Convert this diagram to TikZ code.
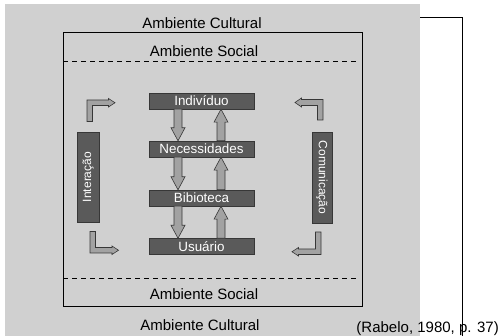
\documentclass[tikz,border=0pt]{standalone}
\usepackage{fontspec}
\setmainfont{Liberation Sans}
\usetikzlibrary{calc}

\definecolor{bggray}{RGB}{208,208,208}
\definecolor{boxgray}{RGB}{90,90,90}
\definecolor{arrgray}{RGB}{162,162,162}
\definecolor{edgegray}{RGB}{55,55,55}

\tikzset{
  envlabel/.style={font=\fontsize{15}{17}\selectfont, inner sep=0pt},
  stagebox/.style={draw=edgegray, fill=boxgray, text=white, minimum width=105pt,
    minimum height=16pt, inner sep=0pt, font=\fontsize{13.4}{15}\selectfont},
  sidebox/.style={draw=edgegray, fill=boxgray, text=white, inner sep=0pt,
    font=\fontsize{12}{14}\selectfont},
  blockarr/.style={draw=edgegray, fill=arrgray, line width=0.6pt, line join=miter}
}

% base, tip, head offset (negative: head points down)
\newcommand{\fatarrow}[3]{%
  \filldraw[blockarr] ($#1+(-4,0)$) -- ($#1+(4,0)$) -- ($#2+(4,#3)$) -- ($#2+(7,#3)$)
    -- #2 -- ($#2+(-7,#3)$) -- ($#2+(-4,#3)$) -- cycle;}

\begin{document}
\begin{tikzpicture}[x=1pt, y=-1pt]
  \useasboundingbox (0,0) rectangle (498,336);
  % ambiente cultural
  \fill[bggray] (5,4) rectangle (420,336);
  \draw[line width=0.8pt] (420,17) -- (462,17) -- (462,336);
  \node[envlabel] (cultop) at (202,23) {Ambiente Cultural};
  \node[envlabel] (cultbot) at (200,325) {Ambiente Cultural};
  \node[envlabel, anchor=east] (ref) at (499,329) {(Rabelo, 1980, p. 37)};
  % ambiente social
  \draw[line width=0.8pt] (63,32) rectangle (362,306);
  \draw[dashed, dash pattern=on 5pt off 4pt, line width=0.8pt] (63,61) -- (356,61);
  \draw[dashed, dash pattern=on 5pt off 4pt, line width=0.8pt] (63,278) -- (358,278);
  \node[envlabel] (soctop) at (204,51) {Ambiente Social};
  \node[envlabel] (socbot) at (204,294) {Ambiente Social};

  % cadeia central
  \node[stagebox] (ind) at (201.5,101) {Indivíduo};
  \node[stagebox] (nec) at (201.5,149) {Necessidades};
  \node[stagebox] (bib) at (201.5,198) {Bibioteca};
  \node[stagebox] (usu) at (201.5,246.5) {Usuário};
  \coordinate (dn) at (178,0);
  \coordinate (up) at (221,0);
  \fatarrow{(ind.south -| dn)}{(nec.north -| dn)}{-13}
  \fatarrow{(nec.north -| up)}{(ind.south -| up)}{13}
  \fatarrow{(nec.south -| dn)}{(bib.north -| dn)}{-13}
  \fatarrow{(bib.north -| up)}{(nec.south -| up)}{13}
  \fatarrow{(bib.south -| dn)}{(usu.north -| dn)}{-13}
  \fatarrow{(usu.north -| up)}{(bib.south -| up)}{13}

  % laterais
  \node[sidebox, minimum width=90pt, minimum height=22pt, rotate=90] (int) at (88,177) {Interação};
  \node[sidebox, minimum width=91pt, minimum height=20pt, rotate=-90] (com) at (322,177.5) {Comunicação};
  \filldraw[blockarr] (87,121.5) -- (87,100) -- (108.5,100) -- (108.5,98.5) -- (115,102.75)
    -- (108.5,107) -- (108.5,105.5) -- (92.5,105.5) -- (92.5,121.5) -- cycle;
  \filldraw[blockarr] (90,231.5) -- (95.5,231.5) -- (95.5,247.5) -- (112,247.5) -- (112,246)
    -- (118.5,250.25) -- (112,254.5) -- (112,253) -- (90,253) -- cycle;
  \filldraw[blockarr] (323,120) -- (323,99.5) -- (301.5,99.5) -- (301.5,98) -- (295,102.5)
    -- (301.5,107) -- (301.5,105.5) -- (317.5,105.5) -- (317.5,120) -- cycle;
  \filldraw[blockarr] (315.5,232) -- (321,232) -- (321,254.5) -- (298.5,254.5) -- (298.5,256)
    -- (292,251.75) -- (298.5,247.5) -- (298.5,249) -- (315.5,249) -- cycle;
\end{tikzpicture}
\end{document}
